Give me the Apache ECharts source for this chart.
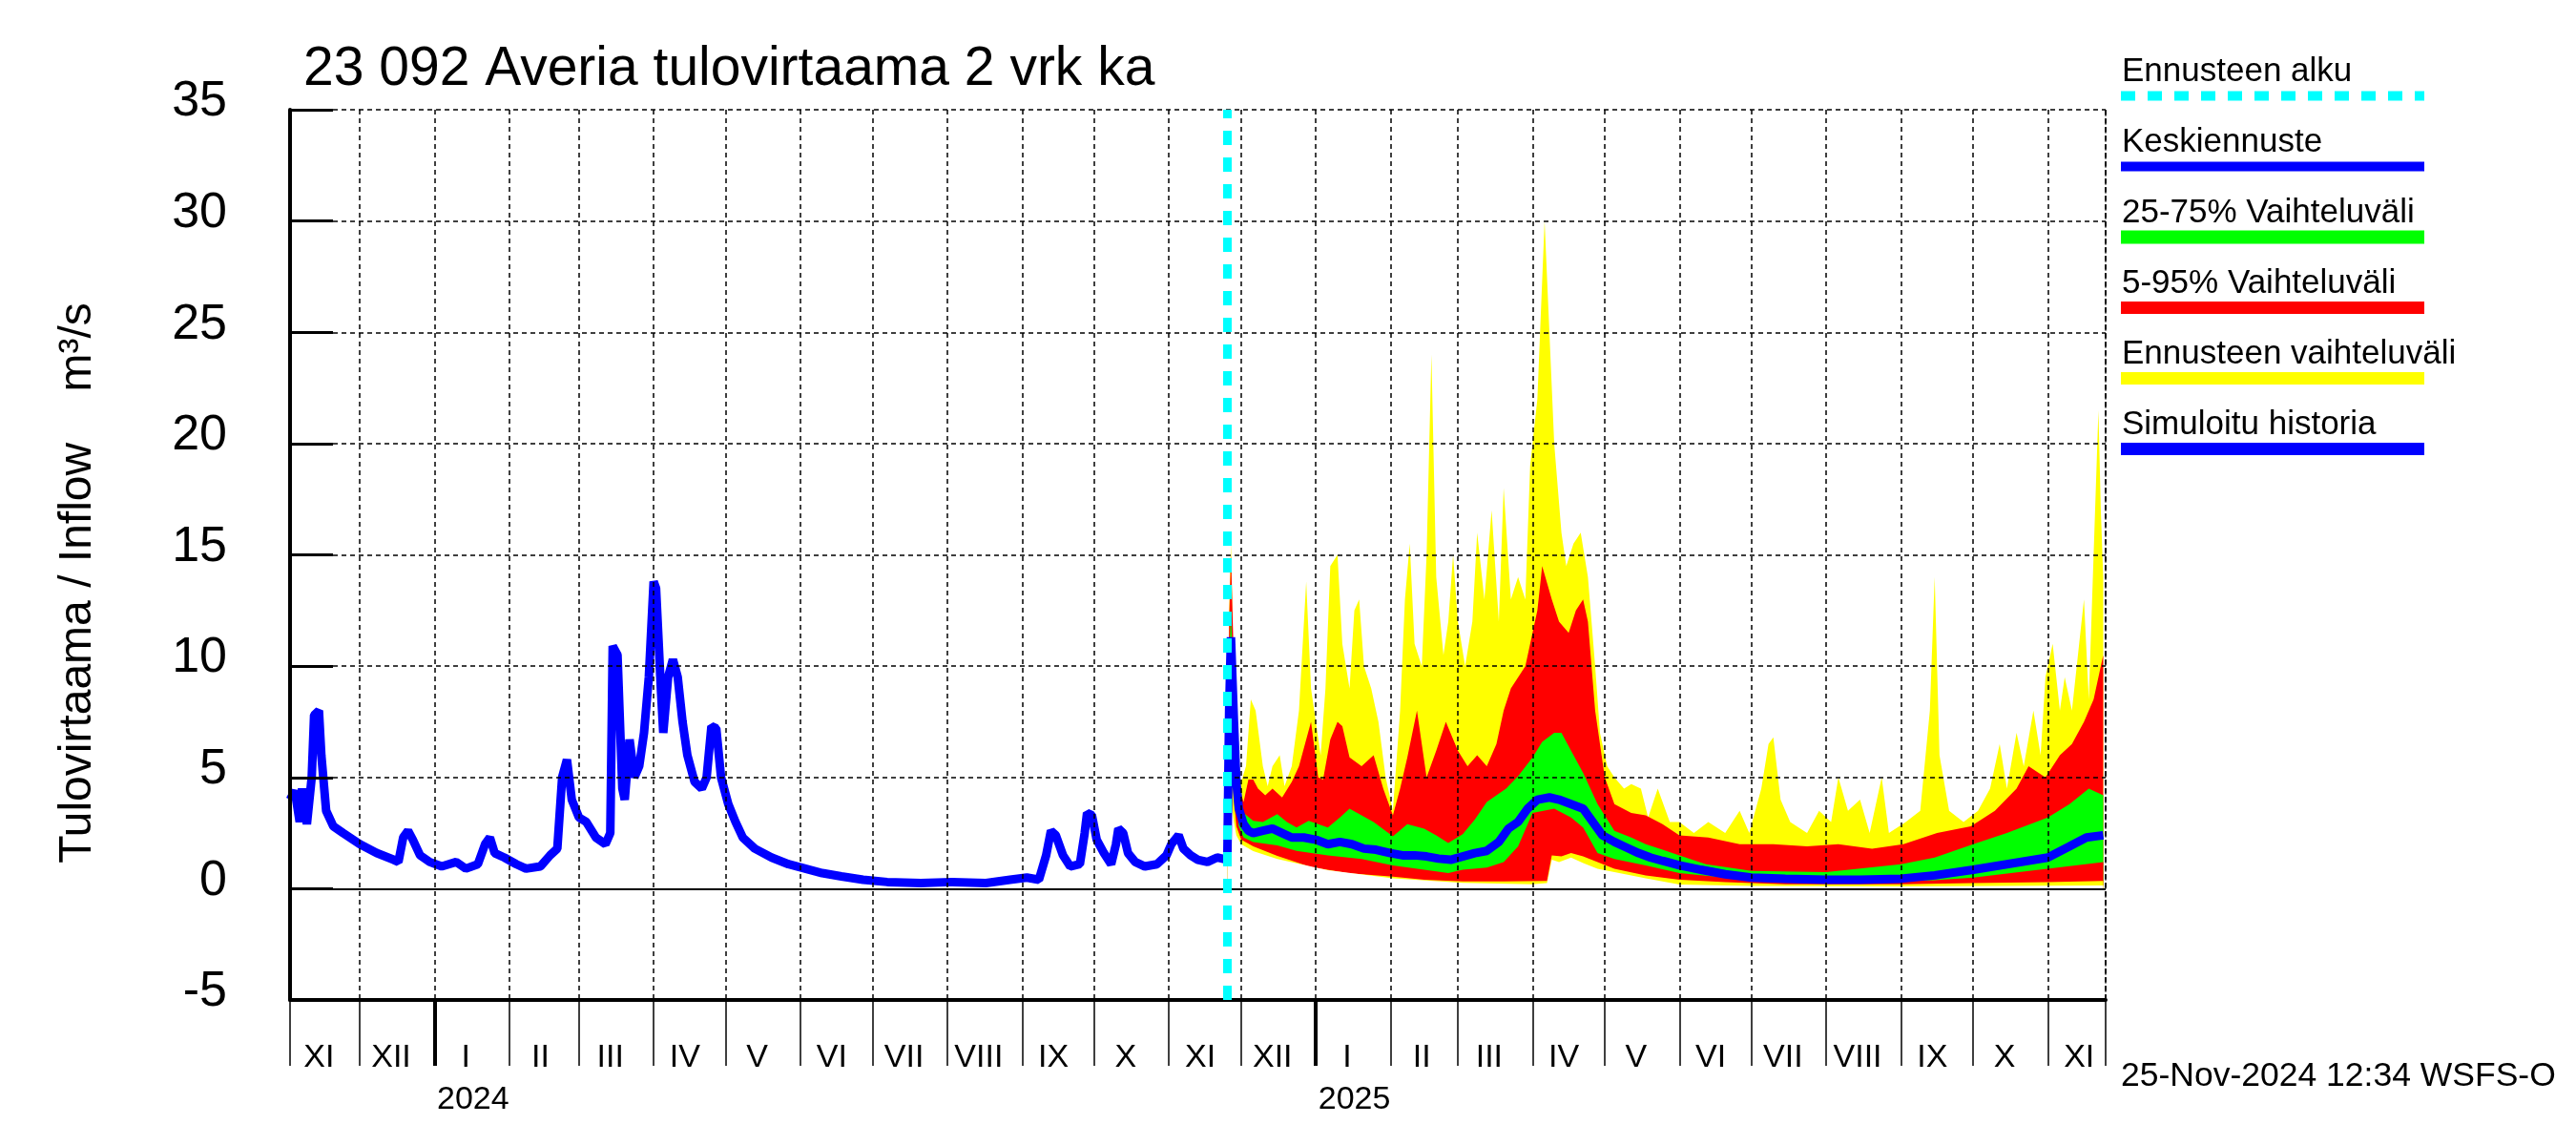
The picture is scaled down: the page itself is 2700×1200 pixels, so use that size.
<!DOCTYPE html>
<html><head><meta charset="utf-8">
<script src="https://cdn.jsdelivr.net/npm/echarts@6/dist/echarts.min.js"></script>
<style>html,body{margin:0;padding:0;background:#fff}#c{width:2700px;height:1200px}</style>
</head><body><div id="c"></div>
<script>
const titleText = '23 092 Averia tulovirtaama 2 vrk ka';
const yAxisTitle = 'Tulovirtaama / Inflow    m\u00b3/s';
const footerText = '25-Nov-2024 12:34 WSFS-O';
const romanMonths = ['I','II','III','IV','V','VI','VII','VIII','IX','X','XI','XII'];
const monthLabelDates = ['2023-11-14','2023-12-14','2024-01-14','2024-02-14','2024-03-14','2024-04-14','2024-05-14','2024-06-14','2024-07-14','2024-08-14','2024-09-14','2024-10-14','2024-11-14','2024-12-14','2025-01-14','2025-02-14','2025-03-14','2025-04-14','2025-05-14','2025-06-14','2025-07-14','2025-08-14','2025-09-14','2025-10-14','2025-11-14'];
const yearTickDates = ['2024-01-01','2025-01-01'];
const yearLabelDates = ['2024-01-17','2025-01-17'];
const yTicks = { min: -5, max: 35, interval: 5 };
const xRange = { min: '2023-11-02', max: '2025-11-25' };
const forecastStart = '2024-11-25 06:00';

const legendNames = ['Ennusteen alku','Keskiennuste','25-75% Vaihteluväli','5-95% Vaihteluväli','Ennusteen vaihteluväli','Simuloitu historia'];

const histDates = ['2023-11-02','2023-11-04','2023-11-06','2023-11-07','2023-11-09','2023-11-11','2023-11-12','2023-11-14','2023-11-15','2023-11-17','2023-11-20','2023-11-24','2023-12-01','2023-12-08','2023-12-15','2023-12-17','2023-12-19','2023-12-21','2023-12-23','2023-12-26','2023-12-30','2024-01-04','2024-01-10','2024-01-14','2024-01-19','2024-01-22','2024-01-24','2024-01-26','2024-01-30','2024-02-04','2024-02-08','2024-02-14','2024-02-18','2024-02-21','2024-02-23','2024-02-25','2024-02-27','2024-03-01','2024-03-04','2024-03-08','2024-03-12','2024-03-14','2024-03-15','2024-03-17','2024-03-19','2024-03-20','2024-03-22','2024-03-24','2024-03-26','2024-03-28','2024-03-30','2024-04-01','2024-04-02','2024-04-04','2024-04-05','2024-04-07','2024-04-09','2024-04-11','2024-04-13','2024-04-15','2024-04-18','2024-04-21','2024-04-23','2024-04-25','2024-04-27','2024-04-29','2024-05-02','2024-05-05','2024-05-08','2024-05-13','2024-05-20','2024-05-27','2024-06-03','2024-06-10','2024-06-18','2024-06-27','2024-07-07','2024-07-21','2024-08-03','2024-08-17','2024-08-27','2024-09-03','2024-09-08','2024-09-11','2024-09-13','2024-09-15','2024-09-18','2024-09-21','2024-09-25','2024-09-27','2024-09-28','2024-09-30','2024-10-02','2024-10-05','2024-10-08','2024-10-10','2024-10-11','2024-10-13','2024-10-15','2024-10-18','2024-10-22','2024-10-27','2024-10-31','2024-11-02','2024-11-05','2024-11-07','2024-11-10','2024-11-13','2024-11-17','2024-11-21','2024-11-25 06:00'];
const histValues = [4.0,4.4,3.0,4.5,2.9,5.0,7.8,8.0,6.0,3.5,2.8,2.5,2.0,1.6,1.3,1.2,2.3,2.6,2.2,1.5,1.2,1.0,1.2,0.9,1.1,2.0,2.3,1.6,1.4,1.1,0.9,1.0,1.5,1.8,5.0,5.8,4.0,3.2,3.0,2.3,2.0,2.5,10.9,10.5,4.5,4.0,6.7,5.0,5.5,7.0,9.5,13.8,13.5,9.0,7.0,9.5,10.3,9.5,7.5,6.0,4.8,4.5,5.0,7.3,7.2,5.0,3.8,3.0,2.3,1.8,1.4,1.1,0.9,0.7,0.55,0.4,0.3,0.25,0.3,0.25,0.4,0.5,0.4,1.5,2.6,2.4,1.5,1.0,1.1,2.5,3.4,3.3,2.2,1.6,1.1,2.0,2.7,2.5,1.6,1.2,1.0,1.1,1.5,2.0,2.4,1.8,1.5,1.3,1.2,1.4,1.3];

const medDates = ['2024-11-25 06:00','2024-11-26 00:00','2024-11-26 18:00','2024-11-28','2024-11-29','2024-11-30','2024-12-02','2024-12-04','2024-12-06','2024-12-10','2024-12-14','2024-12-18','2024-12-22','2024-12-27','2025-01-01','2025-01-06','2025-01-11','2025-01-16','2025-01-21','2025-01-26','2025-02-01','2025-02-06','2025-02-11','2025-02-16','2025-02-21','2025-02-26','2025-03-03','2025-03-08','2025-03-13','2025-03-18','2025-03-22','2025-03-26','2025-03-30','2025-04-03','2025-04-08','2025-04-12','2025-04-17','2025-04-22','2025-04-26','2025-04-30','2025-05-05','2025-05-10','2025-05-15','2025-05-20','2025-05-25','2025-06-01','2025-06-10','2025-06-20','2025-07-01','2025-07-15','2025-08-01','2025-08-15','2025-09-01','2025-09-15','2025-10-01','2025-10-15','2025-11-01','2025-11-10','2025-11-17','2025-11-24'];
const medValues = [1.3,8.0,11.3,7.5,4.8,3.6,2.9,2.6,2.5,2.6,2.7,2.5,2.3,2.3,2.2,2.0,2.1,2.0,1.8,1.75,1.6,1.5,1.5,1.45,1.35,1.3,1.45,1.6,1.7,2.1,2.7,3.0,3.6,4.0,4.1,4.0,3.8,3.6,3.0,2.4,2.1,1.85,1.6,1.4,1.25,1.05,0.85,0.65,0.5,0.45,0.4,0.4,0.45,0.6,0.85,1.1,1.4,1.9,2.3,2.4];

const p75Dates = ['2024-11-25 06:00','2024-11-26 00:00','2024-11-26 18:00','2024-11-28','2024-11-29','2024-11-30','2024-12-02','2024-12-06','2024-12-10','2024-12-16','2024-12-20','2024-12-24','2024-12-29','2025-01-02','2025-01-06','2025-01-11','2025-01-15','2025-01-20','2025-01-25','2025-02-02','2025-02-08','2025-02-15','2025-02-20','2025-02-25','2025-03-03','2025-03-08','2025-03-13','2025-03-21','2025-03-26','2025-04-01','2025-04-05','2025-04-10','2025-04-13','2025-04-17','2025-04-22','2025-04-28','2025-05-05','2025-05-12','2025-05-18','2025-05-25','2025-06-01','2025-06-12','2025-07-01','2025-08-01','2025-09-01','2025-09-15','2025-10-01','2025-10-15','2025-11-01','2025-11-10','2025-11-18','2025-11-24'];
const p75Values = [1.3,10,12.5,8.5,5.6,4.2,3.4,3.05,3.0,3.35,3.0,2.75,3.05,2.9,2.75,3.2,3.6,3.3,3.0,2.35,2.9,2.7,2.4,2.05,2.45,3.1,3.9,4.5,5.05,5.9,6.6,7.0,7.0,6.2,5.2,3.8,2.6,2.3,2.0,1.75,1.5,1.1,0.8,0.75,1.1,1.4,2.0,2.5,3.2,3.8,4.5,4.2];

const p25Dates = ['2024-11-25 06:00','2024-11-26 00:00','2024-11-26 18:00','2024-11-28','2024-11-29','2024-11-30','2024-12-02','2024-12-06','2024-12-16','2024-12-24','2025-01-06','2025-01-20','2025-02-02','2025-02-15','2025-02-25','2025-03-03','2025-03-13','2025-03-20','2025-03-26','2025-04-01','2025-04-10','2025-04-17','2025-04-22','2025-04-28','2025-05-05','2025-05-18','2025-06-01','2025-06-20','2025-07-10','2025-08-15','2025-09-15','2025-10-01','2025-10-20','2025-11-05','2025-11-24'];
const p25Values = [1.3,6.0,9.0,6.2,3.8,2.8,2.3,2.1,1.95,1.7,1.5,1.33,1.05,0.85,0.7,0.85,0.95,1.2,1.9,3.4,3.6,3.2,2.75,1.6,1.33,1.05,0.7,0.5,0.35,0.3,0.38,0.5,0.75,0.95,1.2];

const p95Dates = ['2024-11-25 06:00','2024-11-26 00:00','2024-11-26 18:00','2024-11-28','2024-11-29','2024-11-30','2024-12-02','2024-12-04','2024-12-06','2024-12-08','2024-12-11','2024-12-14','2024-12-18','2024-12-22','2024-12-25','2024-12-30','2025-01-02','2025-01-04','2025-01-07','2025-01-10','2025-01-12','2025-01-15','2025-01-20','2025-01-25','2025-01-29','2025-02-02','2025-02-05','2025-02-08','2025-02-12','2025-02-16','2025-02-20','2025-02-24','2025-03-01','2025-03-05','2025-03-09','2025-03-13','2025-03-17','2025-03-20','2025-03-23','2025-03-29','2025-04-03','2025-04-05','2025-04-09','2025-04-12','2025-04-16','2025-04-19','2025-04-22','2025-04-24','2025-04-27','2025-05-01','2025-05-05','2025-05-12','2025-05-18','2025-05-25','2025-06-01','2025-06-13','2025-06-26','2025-07-10','2025-07-24','2025-08-06','2025-08-20','2025-09-02','2025-09-16','2025-09-30','2025-10-10','2025-10-19','2025-10-24','2025-10-31','2025-11-06','2025-11-11','2025-11-16','2025-11-20','2025-11-24'];
const p95Values = [1.3,12,15,10,6.0,4.6,3.9,4.9,4.9,4.5,4.2,4.5,4.1,4.8,5.5,7.5,5.0,4.9,6.7,7.5,7.3,5.9,5.5,6.0,4.5,3.3,4.5,5.9,8.0,5.0,6.2,7.5,6.2,5.5,6.0,5.5,6.5,8.0,9.0,10,12.5,14.5,13,12,11.5,12.5,13,12,8.0,5.0,3.8,3.4,3.3,2.9,2.4,2.3,2.0,2.0,1.9,2.0,1.8,2.0,2.5,2.8,3.5,4.5,5.5,5.0,6.0,6.5,7.5,8.5,10.5];

const p05Dates = ['2024-11-25 06:00','2024-11-26 00:00','2024-11-26 18:00','2024-11-28','2024-11-29','2024-12-01','2024-12-06','2024-12-16','2024-12-30','2025-01-15','2025-02-02','2025-02-15','2025-03-03','2025-03-20','2025-04-07','2025-04-09','2025-04-13','2025-04-17','2025-04-22','2025-04-28','2025-05-05','2025-05-18','2025-06-01','2025-06-20','2025-07-15','2025-09-01','2025-10-01','2025-11-01','2025-11-24'];
const p05Values = [1.3,4.0,6.0,4.0,2.8,2.2,1.9,1.47,0.97,0.69,0.54,0.4,0.33,0.33,0.35,1.5,1.45,1.6,1.45,1.2,0.9,0.6,0.4,0.3,0.2,0.2,0.25,0.3,0.35];

const minDates = ['2024-11-25 06:00','2024-11-26 00:00','2024-11-26 18:00','2024-11-28','2024-11-29','2024-12-01','2024-12-06','2024-12-16','2025-01-06','2025-02-02','2025-03-03','2025-04-01','2025-04-07','2025-04-09','2025-04-12','2025-04-17','2025-04-22','2025-04-28','2025-05-05','2025-05-18','2025-06-01','2025-07-01','2025-09-01','2025-11-24'];
const minValues = [1.3,3.0,4.0,3.0,2.4,2.0,1.69,1.33,0.83,0.47,0.26,0.2,0.25,1.3,1.2,1.4,1.15,0.9,0.75,0.47,0.19,0.12,0.1,0.15];

const maxDates = ['2024-11-25 06:00','2024-11-26 00:00','2024-11-26 18:00','2024-11-28','2024-11-29','2024-12-01','2024-12-03','2024-12-05','2024-12-07','2024-12-10','2024-12-12','2024-12-14','2024-12-17','2024-12-19','2024-12-22','2024-12-25','2024-12-28','2024-12-30','2025-01-03','2025-01-05','2025-01-07','2025-01-10','2025-01-12','2025-01-15','2025-01-17','2025-01-19','2025-01-21','2025-01-24','2025-01-27','2025-01-30','2025-02-02','2025-02-05','2025-02-07','2025-02-09','2025-02-11','2025-02-14','2025-02-16','2025-02-18','2025-02-20','2025-02-23','2025-02-25','2025-02-27','2025-03-01','2025-03-04','2025-03-07','2025-03-09','2025-03-12','2025-03-15','2025-03-18','2025-03-20','2025-03-23','2025-03-26','2025-03-29','2025-03-31','2025-04-03','2025-04-06','2025-04-08','2025-04-10','2025-04-13','2025-04-15','2025-04-18','2025-04-21','2025-04-24','2025-04-27','2025-04-29','2025-05-02','2025-05-05','2025-05-09','2025-05-12','2025-05-16','2025-05-19','2025-05-23','2025-05-28','2025-06-01','2025-06-07','2025-06-13','2025-06-20','2025-06-26','2025-06-30','2025-07-05','2025-07-08','2025-07-10','2025-07-13','2025-07-17','2025-07-24','2025-07-29','2025-08-03','2025-08-06','2025-08-10','2025-08-15','2025-08-19','2025-08-24','2025-08-27','2025-09-03','2025-09-09','2025-09-13','2025-09-15','2025-09-17','2025-09-21','2025-09-27','2025-10-03','2025-10-08','2025-10-12','2025-10-15','2025-10-19','2025-10-22','2025-10-26','2025-10-29','2025-10-31','2025-11-03','2025-11-06','2025-11-08','2025-11-11','2025-11-14','2025-11-16','2025-11-18','2025-11-20','2025-11-22','2025-11-23','2025-11-24'];
const maxValues = [1.3,12.5,15.5,9.0,6.0,4.8,5.5,8.5,8.0,5.5,4.6,5.5,6.0,4.6,5.5,8.0,13.8,9.0,6.0,9.0,14.5,15.0,11.0,9.0,12.5,13.0,10.0,9.0,7.5,5.0,3.5,8.0,13.0,15.5,11.0,10.0,15.0,24.0,14.0,10.5,12.0,15.0,12.0,10.0,12.0,16.0,13.0,17.0,12.0,18.0,13.0,14.0,13.0,19.0,22.0,30.0,25.0,20.0,16.0,14.5,15.5,16.0,14.0,10.0,7.0,5.5,5.0,4.5,4.7,4.5,3.2,4.5,3.0,3.0,2.5,3.0,2.5,3.5,2.5,4.5,6.5,6.8,4.0,3.0,2.5,3.5,3.0,5.0,3.5,4.0,2.5,5.0,2.5,3.0,3.5,8.0,14.0,6.0,3.5,3.0,3.5,4.5,6.5,4.5,7.0,5.5,8.0,6.0,9.5,11.0,8.0,9.5,8.0,11.0,13.0,8.5,15.0,21.5,17.0,14.0];

const FONT = 'Liberation Sans';
const zip = (d, v) => d.map((x, i) => [x, v[i]]);
const ts = s => +echarts.time.parse(s);

function band(name, dates, vals, color) {
  return { name, type: 'line', data: zip(dates, vals), symbol: 'none', silent: true,
    lineStyle: { width: 0, opacity: 0 }, areaStyle: { color, opacity: 1 }, z: 2 };
}

const legendStyles = [
  { color: '#00ffff', width: 10, dash: [15, 13] },
  { color: '#0000ff', width: 10 },
  { color: '#00ff00', width: 14 },
  { color: '#ff0000', width: 13 },
  { color: '#ffff00', width: 13 },
  { color: '#0000ff', width: 13 }
];
const graphics = [];
legendNames.forEach((n, i) => {
  const base = 83 + 74 * i;
  graphics.push({ type: 'text', x: 2224, y: base - 8, z: 100,
    style: { text: n, fontSize: 35, fontFamily: FONT, fill: '#000', align: 'left', verticalAlign: 'middle' } });
  const s = legendStyles[i];
  graphics.push({ type: 'line', z: 100, shape: { x1: 2223, y1: base + 17.5, x2: 2541, y2: base + 17.5 },
    style: { stroke: s.color, lineWidth: s.width, lineDash: s.dash || null, lineCap: 'butt' } });
});
graphics.push({ type: 'text', x: 2223, y: 1128, z: 100,
  style: { text: footerText, fontSize: 35.5, fontFamily: FONT, fill: '#000', align: 'left', verticalAlign: 'middle' } });
graphics.push({ type: 'text', x: 82, y: 611, rotation: Math.PI / 2, z: 100,
  style: { text: yAxisTitle, fontSize: 48, fontFamily: FONT, fill: '#000', align: 'center', verticalAlign: 'middle' } });

const chart = echarts.init(document.getElementById('c'), null, { renderer: 'canvas' });
const dashed = { color: '#000', width: 1.5, type: [5, 4] };
const xMinTs = ts(xRange.min), xMaxTs = ts(xRange.max);
chart.setOption({
  backgroundColor: '#fff',
  animation: false,
  textStyle: { fontFamily: FONT },
  title: { text: titleText, left: 318, top: 45, padding: 0,
    textStyle: { fontSize: 57, fontWeight: 'normal', fontFamily: FONT, color: '#000' } },
  grid: { left: 304, right: 493, top: 115, bottom: 152 },
  xAxis: [
    { type: 'time', min: xMinTs, max: xMaxTs, position: 'bottom', z: 10,
      minInterval: 28 * 86400000, maxInterval: 31 * 86400000,
      axisLine: { onZero: false, lineStyle: { color: '#000', width: 4 } },
      axisTick: { show: true, length: 69, lineStyle: { color: '#000', width: 1.5 } },
      axisLabel: { show: false },
      splitLine: { show: true, lineStyle: dashed } },
    { type: 'value', min: xMinTs, max: xMaxTs, position: 'bottom', z: 10,
      axisLine: { show: false, onZero: false },
      axisTick: { show: true, customValues: yearTickDates.map(ts), length: 69, lineStyle: { color: '#000', width: 4 } },
      axisLabel: { show: true, customValues: monthLabelDates.map(ts), margin: 44, fontSize: 34, color: '#000', fontFamily: FONT,
        formatter: v => romanMonths[new Date(v).getMonth()] },
      splitLine: { show: false } },
    { type: 'value', min: xMinTs, max: xMaxTs, position: 'bottom', z: 10,
      axisLine: { show: false, onZero: false },
      axisTick: { show: false },
      axisLabel: { show: true, customValues: yearLabelDates.map(ts), margin: 88, fontSize: 34, color: '#000', fontFamily: FONT,
        formatter: v => String(new Date(v).getFullYear()) },
      splitLine: { show: false } }
  ],
  yAxis: [
    { type: 'value', min: yTicks.min, max: yTicks.max, interval: yTicks.interval, z: 10,
      axisLine: { show: true, onZero: false, lineStyle: { color: '#000', width: 4 } },
      axisTick: { show: true, inside: true, length: 45, lineStyle: { color: '#000', width: 3 } },
      axisLabel: { fontSize: 52, color: '#000', margin: 66, fontFamily: FONT, verticalAlign: 'bottom', lineHeight: 16 },
      splitLine: { show: true, lineStyle: dashed } },
    { type: 'value', min: yTicks.min, max: yTicks.max, interval: yTicks.interval, position: 'right', z: 10,
      axisLine: { show: true, onZero: false, lineStyle: dashed },
      axisTick: { show: false }, axisLabel: { show: false }, splitLine: { show: false } }
  ],
  graphic: graphics,
  series: [
    band(legendNames[4], maxDates, maxValues, '#ffff00'),
    band(legendNames[3], p95Dates, p95Values, '#ff0000'),
    band(legendNames[2], p75Dates, p75Values, '#00ff00'),
    band('p25', p25Dates, p25Values, '#ff0000'),
    band('p05', p05Dates, p05Values, '#ffff00'),
    band('min', minDates, minValues, '#ffffff'),
    { name: legendNames[1], type: 'line', data: zip(medDates, medValues), symbol: 'none', z: 3,
      lineStyle: { color: '#0000ff', width: 9 } },
    { name: legendNames[5], type: 'line', data: zip(histDates, histValues), symbol: 'none', z: 3,
      lineStyle: { color: '#0000ff', width: 9 },
      markLine: { silent: true, symbol: ['none', 'none'], z: 20, label: { show: false },
        data: [
          { yAxis: 0, lineStyle: { color: '#000', width: 2, type: 'solid' } },
          { xAxis: ts(forecastStart), lineStyle: { color: '#00ffff', width: 9, type: [15, 13] } }
        ] } }
  ]
});
</script></body></html>
